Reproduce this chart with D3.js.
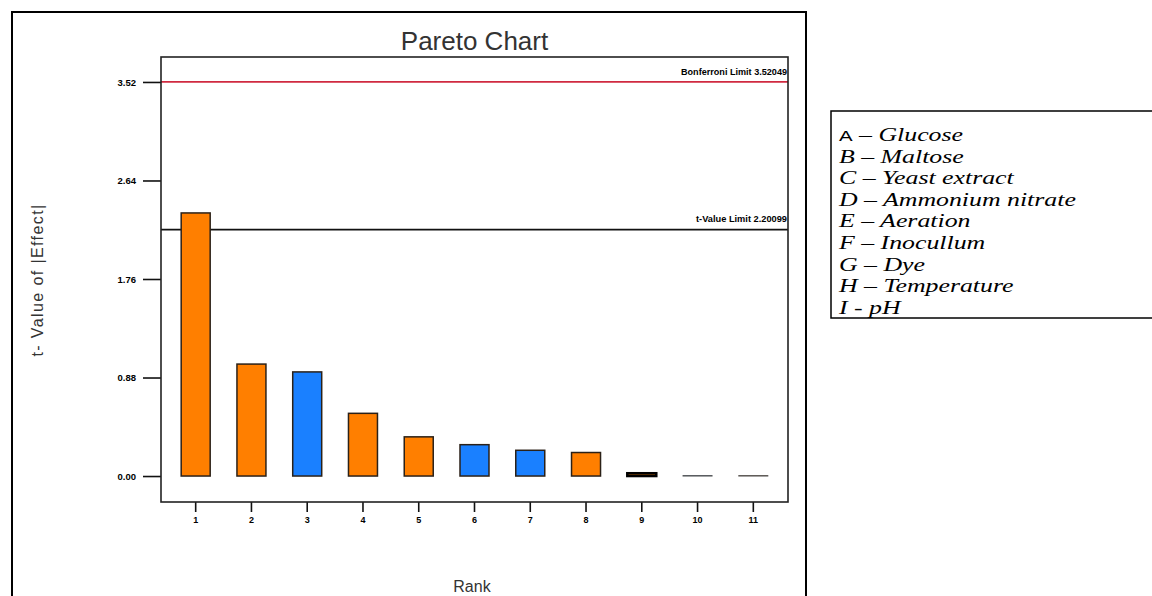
<!DOCTYPE html>
<html>
<head>
<meta charset="utf-8">
<script src="https://cdn.jsdelivr.net/npm/d3@7"></script>
<style>
  html, body { margin: 0; padding: 0; background: #fff; }
  svg { display: block; }
</style>
</head>
<body>
<svg id="chart" width="1152" height="596"></svg>
<script>
// Ranked effects (t-value of |effect|) and their sign
const ranks = [1, 2, 3, 4, 5, 6, 7, 8, 9, 10, 11];
const tValues = [2.35, 1.0, 0.93, 0.56, 0.35, 0.28, 0.23, 0.21, 0.025, 0.004, 0.004];
const signs = ["pos", "pos", "neg", "pos", "pos", "neg", "neg", "pos", "pos", "neg", "pos"];
const yTickValues = [0.00, 0.88, 1.76, 2.64, 3.52];
const yTickLabels = ["0.00", "0.88", "1.76", "2.64", "3.52"];
const bonferroniLimit = 3.52049;
const tValueLimit = 2.20099;
const factorCodes = ["A", "B", "C", "D", "E", "F", "G", "H", "I"];
const factorNames = ["Glucose", "Maltose", "Yeast extract", "Ammonium nitrate", "Aeration",
  "Inocullum", "Dye", "Temperature", "pH"];
const factorDashes = ["–", "–", "–", "–", "–", "–", "–", "–", "-"];

const svg = d3.select("#chart");
const plot = { left: 161, right: 788, top: 57, bottom: 502 };
const signColor = { pos: "#ff7f00", neg: "#1a80ff" };

// outer frame around the chart
svg.append("rect")
  .attr("x", 12).attr("y", 12).attr("width", 794).attr("height", 600)
  .attr("fill", "none").attr("stroke", "#000").attr("stroke-width", 2);

const x = d3.scaleBand()
  .domain(ranks)
  .range([plot.left, plot.right])
  .paddingInner(0.48)
  .paddingOuter(0.362);

const y = d3.scaleLinear()
  .domain([-0.232, 3.743])
  .range([plot.bottom, plot.top]);

// title
svg.append("text")
  .attr("x", (plot.left + plot.right) / 2).attr("y", 50)
  .attr("text-anchor", "middle")
  .attr("font-family", "Liberation Sans, Arial, sans-serif")
  .attr("font-size", 26)
  .attr("fill", "#333")
  .text("Pareto Chart");

// limit lines
svg.append("line")
  .attr("x1", plot.left).attr("x2", plot.right)
  .attr("y1", y(bonferroniLimit)).attr("y2", y(bonferroniLimit))
  .attr("stroke", "#d02a40").attr("stroke-width", 1.6);
svg.append("line")
  .attr("x1", plot.left).attr("x2", plot.right)
  .attr("y1", y(tValueLimit)).attr("y2", y(tValueLimit))
  .attr("stroke", "#111").attr("stroke-width", 1.6);

const smallBold = sel => sel
  .attr("font-family", "Liberation Sans, Arial, sans-serif")
  .attr("font-weight", "bold")
  .attr("font-size", 8.5)
  .attr("fill", "#000");

svg.append("text")
  .attr("x", plot.right - 1).attr("y", y(bonferroniLimit) - 7)
  .attr("text-anchor", "end")
  .attr("textLength", 106).attr("lengthAdjust", "spacingAndGlyphs")
  .call(smallBold)
  .text("Bonferroni Limit 3.52049");
svg.append("text")
  .attr("x", plot.right - 1).attr("y", y(tValueLimit) - 8)
  .attr("text-anchor", "end")
  .attr("textLength", 91).attr("lengthAdjust", "spacingAndGlyphs")
  .call(smallBold)
  .text("t-Value Limit 2.20099");

// bars
svg.append("g").selectAll("rect")
  .data(ranks)
  .join("rect")
  .attr("x", d => x(d))
  .attr("width", x.bandwidth())
  .attr("y", (d, i) => y(tValues[i]))
  .attr("height", (d, i) => y(0) - y(tValues[i]))
  .attr("fill", (d, i) => signColor[signs[i]])
  .attr("stroke", (d, i) => i === 8 ? "#000" : (i > 8 ? "#555" : "#2b2118"))
  .attr("stroke-width", (d, i) => i === 8 ? 2.5 : (i > 8 ? 1 : 1.5));

// axes
const yAxis = d3.axisLeft(y)
  .tickValues(yTickValues)
  .tickFormat((d, i) => yTickLabels[i])
  .tickSize(18).tickPadding(7);
const gy = svg.append("g").attr("transform", `translate(${plot.left},0)`).call(yAxis);
gy.select(".domain").remove();
gy.selectAll(".tick line").attr("stroke", "#111").attr("stroke-width", 1.6);
gy.selectAll(".tick text").call(smallBold).attr("font-size", 9.5);

const xAxis = d3.axisBottom(x).tickSize(10).tickPadding(5);
const gx = svg.append("g").attr("transform", `translate(0,${plot.bottom})`).call(xAxis);
gx.select(".domain").remove();
gx.selectAll(".tick line").attr("stroke", "#111").attr("stroke-width", 1.6);
gx.selectAll(".tick text").call(smallBold).attr("font-size", 9);

// plot frame
svg.append("rect")
  .attr("x", plot.left).attr("y", plot.top)
  .attr("width", plot.right - plot.left).attr("height", plot.bottom - plot.top)
  .attr("fill", "none").attr("stroke", "#222").attr("stroke-width", 1.6);

// axis titles
svg.append("text")
  .attr("transform", "translate(43,280) rotate(-90)")
  .attr("text-anchor", "middle")
  .attr("font-family", "Liberation Sans, Arial, sans-serif")
  .attr("font-size", 16)
  .attr("letter-spacing", 1.4)
  .attr("fill", "#333")
  .text("t- Value of |Effect|");
svg.append("text")
  .attr("x", 472).attr("y", 592)
  .attr("text-anchor", "middle")
  .attr("font-family", "Liberation Sans, Arial, sans-serif")
  .attr("font-size", 16)
  .attr("fill", "#333")
  .text("Rank");

// factor legend box
const lg = svg.append("g");
lg.append("rect")
  .attr("x", 831).attr("y", 111).attr("width", 340).attr("height", 207)
  .attr("fill", "#fff").attr("stroke", "#000").attr("stroke-width", 1.5);
const lt = lg.append("g")
  .attr("transform", "translate(839,0) scale(1.36,1)")
  .selectAll("text")
  .data(factorCodes)
  .join("text")
  .attr("x", 0)
  .attr("y", (d, i) => 141 + i * 21.6)
  .attr("font-family", "Liberation Serif, Times New Roman, serif")
  .attr("font-size", 19)
  .attr("fill", "#000");
lt.append("tspan")
  .attr("font-family", (d, i) => i === 0 ? "Liberation Sans, Arial, sans-serif" : null)
  .attr("font-size", (d, i) => i === 0 ? 15 : null)
  .attr("font-style", (d, i) => i === 0 ? "normal" : "italic")
  .text(d => d);
lt.append("tspan")
  .attr("font-style", "italic")
  .text((d, i) => ` ${factorDashes[i]} ${factorNames[i]}`);
</script>
</body>
</html>
